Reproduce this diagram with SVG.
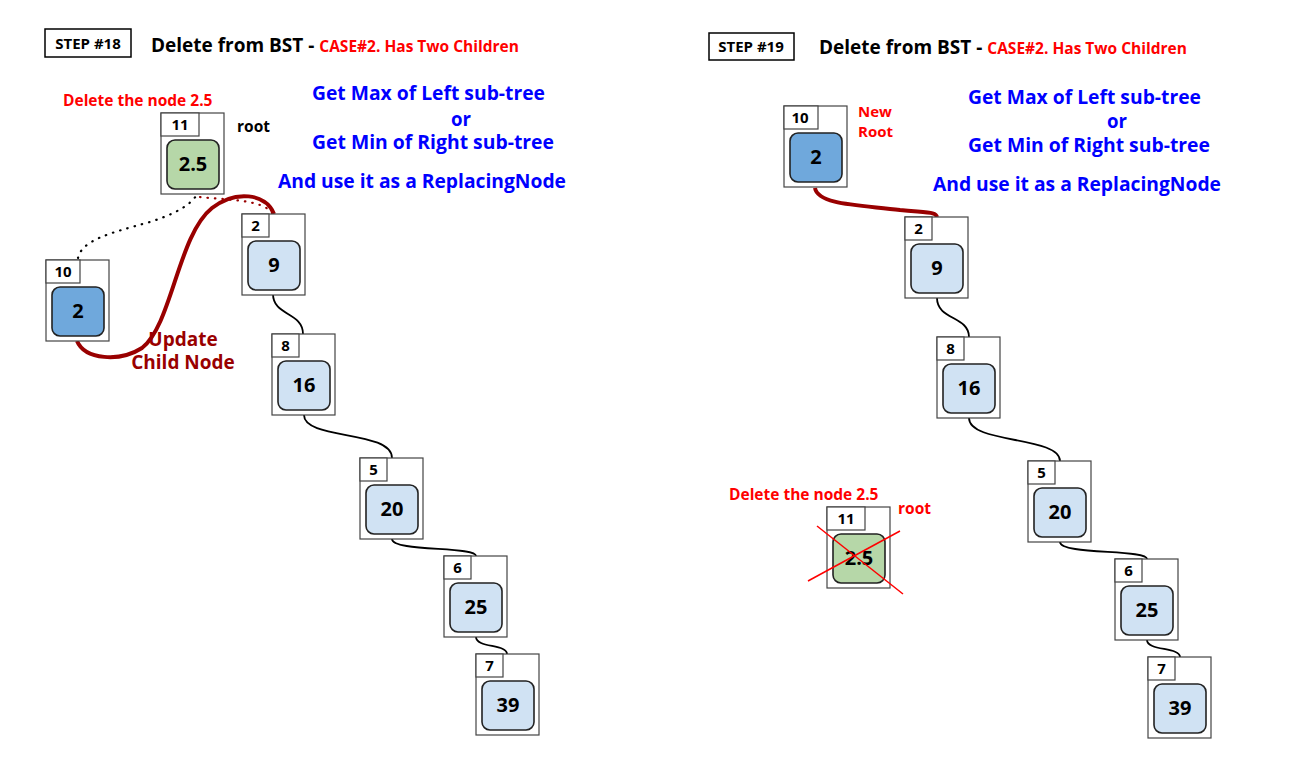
<svg xmlns="http://www.w3.org/2000/svg" width="1291" height="758" viewBox="0 0 1291 758">
<style>
text{font-family:"Open Sans","Noto Sans","DejaVu Sans",sans-serif;font-weight:bold}
.outer{fill:#fff;stroke:#444;stroke-width:1.2}
.lab{fill:#fff;stroke:#444;stroke-width:1.2}
.inner{stroke:#222;stroke-width:1.6}
.lb{fill:#d0e2f3}.db{fill:#6fa8dc}.gr{fill:#b6d7a8}
.lt{font-size:15px;text-anchor:middle;fill:#000}
.vt{font-size:20px;text-anchor:middle;fill:#000}
.conn{fill:none;stroke:#000;stroke-width:1.8}
.thick{fill:none;stroke:#990000;stroke-width:4}
.blue{font-size:20px;fill:#0000ff}
.red{fill:#ff0000}
.step{fill:#fff;stroke:#000;stroke-width:1.5}
</style>
<defs>
<g id="box1">
<rect class="outer" x="0" y="0" width="63" height="81"/>
<rect class="lab" x="0" y="0" width="27" height="23"/>
</g>
<g id="box2">
<rect class="outer" x="0" y="0" width="63" height="81"/>
<rect class="lab" x="0" y="0" width="34" height="23"/>
</g>
<g id="box3">
<rect class="outer" x="0" y="0" width="63" height="81"/>
<rect class="lab" x="0" y="0" width="38" height="23"/>
</g>
</defs>

<g id="connectors">
<path class="conn" d="M273,294 C273,316 303,312 303,334"/>
<path class="conn" d="M304,415 C304,440 392,430 392,458"/>
<path class="conn" d="M392,539 C392,552 476,546 476,556"/>
<path class="conn" d="M476,637 C476,648 507,644 507,654"/>
<path fill="none" stroke="#000" stroke-width="2.2" stroke-dasharray="0.5,7" stroke-linecap="round" d="M78,258 C82,240 110,233 150,222 C175,214 190,205 196,196"/>
<path fill="none" stroke="#990000" stroke-width="2.2" stroke-dasharray="0.5,7" stroke-linecap="round" d="M200,197 C225,200 262,199 272,213"/>
<path class="thick" d="M77,341 C85,360 120,362 142,348 C172,325 178,235 212,208 C235,190 266,193 274,214"/>
<path class="thick" d="M815,188 C818,205 860,205 900,210 C930,213 936,212 937,217"/>
<path class="conn" d="M937,298 C937,320 969,316 969,337"/>
<path class="conn" d="M969,418 C969,444 1060,436 1060,461"/>
<path class="conn" d="M1060,542 C1060,555 1147,549 1147,559"/>
<path class="conn" d="M1147,640 C1147,651 1180,647 1180,657"/>
</g>

<g id="left-header">
<rect class="step" x="45" y="29" width="86" height="28"/>
<text x="88" y="49" font-size="15" text-anchor="middle">STEP #18</text>
<text x="151" y="52" font-size="19">Delete from BST - <tspan class="red" font-size="15.5">CASE#2. Has Two Children</tspan></text>
<text class="red" x="63" y="106" font-size="15.5">Delete the node 2.5</text>
<text x="237" y="132" font-size="15.5">root</text>
<text class="blue" x="312" y="100" textLength="233" lengthAdjust="spacingAndGlyphs">Get Max of Left sub-tree</text>
<text class="blue" x="451" y="126" textLength="20" lengthAdjust="spacingAndGlyphs">or</text>
<text class="blue" x="312" y="149" textLength="242" lengthAdjust="spacingAndGlyphs">Get Min of Right sub-tree</text>
<text class="blue" x="278" y="188" textLength="288" lengthAdjust="spacingAndGlyphs">And use it as a ReplacingNode</text>
<text x="183" y="346" font-size="19" fill="#990000" text-anchor="middle">Update</text>
<text x="183" y="369" font-size="19" fill="#990000" text-anchor="middle">Child Node</text>
</g>

<g id="L11" transform="translate(161,113)"><use href="#box3"/><rect class="inner gr" x="6" y="27" width="52" height="49" rx="8"/><text class="lt" x="19" y="17">11</text><text class="vt" x="32" y="58">2.5</text></g>
<g id="L10" transform="translate(46,260)"><use href="#box2"/><rect class="inner db" x="6" y="27" width="52" height="49" rx="8"/><text class="lt" x="17" y="17">10</text><text class="vt" x="32" y="58">2</text></g>
<g id="L9" transform="translate(242,214)"><use href="#box1"/><rect class="inner lb" x="6" y="27" width="52" height="49" rx="8"/><text class="lt" x="13.5" y="17">2</text><text class="vt" x="32" y="58">9</text></g>
<g id="L16" transform="translate(272,334)"><use href="#box1"/><rect class="inner lb" x="6" y="27" width="52" height="49" rx="8"/><text class="lt" x="13.5" y="17">8</text><text class="vt" x="32" y="58">16</text></g>
<g id="L20" transform="translate(360,458)"><use href="#box1"/><rect class="inner lb" x="6" y="27" width="52" height="49" rx="8"/><text class="lt" x="13.5" y="17">5</text><text class="vt" x="32" y="58">20</text></g>
<g id="L25" transform="translate(444,556)"><use href="#box1"/><rect class="inner lb" x="6" y="27" width="52" height="49" rx="8"/><text class="lt" x="13.5" y="17">6</text><text class="vt" x="32" y="58">25</text></g>
<g id="L39" transform="translate(476,654)"><use href="#box1"/><rect class="inner lb" x="6" y="27" width="52" height="49" rx="8"/><text class="lt" x="13.5" y="17">7</text><text class="vt" x="32" y="58">39</text></g>

<g id="right-header">
<rect class="step" x="709" y="33" width="85" height="27"/>
<text x="751" y="52" font-size="15" text-anchor="middle">STEP #19</text>
<text x="819" y="54" font-size="19">Delete from BST - <tspan class="red" font-size="15.5">CASE#2. Has Two Children</tspan></text>
<text class="red" x="858" y="117" font-size="15">New</text>
<text class="red" x="858" y="137" font-size="15">Root</text>
<text class="blue" x="968" y="104" textLength="233" lengthAdjust="spacingAndGlyphs">Get Max of Left sub-tree</text>
<text class="blue" x="1107" y="128" textLength="20" lengthAdjust="spacingAndGlyphs">or</text>
<text class="blue" x="968" y="152" textLength="242" lengthAdjust="spacingAndGlyphs">Get Min of Right sub-tree</text>
<text class="blue" x="933" y="191" textLength="288" lengthAdjust="spacingAndGlyphs">And use it as a ReplacingNode</text>
<text class="red" x="729" y="500" font-size="15.5">Delete the node 2.5</text>
<text class="red" x="898" y="514" font-size="15.5">root</text>
</g>

<g id="R2" transform="translate(784,106)"><use href="#box2"/><rect class="inner db" x="6" y="27" width="52" height="49" rx="8"/><text class="lt" x="16" y="17">10</text><text class="vt" x="32" y="58">2</text></g>
<g id="R9" transform="translate(905,217)"><use href="#box1"/><rect class="inner lb" x="6" y="27" width="52" height="49" rx="8"/><text class="lt" x="13.5" y="17">2</text><text class="vt" x="32" y="58">9</text></g>
<g id="R16" transform="translate(937,337)"><use href="#box1"/><rect class="inner lb" x="6" y="27" width="52" height="49" rx="8"/><text class="lt" x="13.5" y="17">8</text><text class="vt" x="32" y="58">16</text></g>
<g id="R20" transform="translate(1028,461)"><use href="#box1"/><rect class="inner lb" x="6" y="27" width="52" height="49" rx="8"/><text class="lt" x="13.5" y="17">5</text><text class="vt" x="32" y="58">20</text></g>
<g id="R25" transform="translate(1115,559)"><use href="#box1"/><rect class="inner lb" x="6" y="27" width="52" height="49" rx="8"/><text class="lt" x="13.5" y="17">6</text><text class="vt" x="32" y="58">25</text></g>
<g id="R39" transform="translate(1148,657)"><use href="#box1"/><rect class="inner lb" x="6" y="27" width="52" height="49" rx="8"/><text class="lt" x="13.5" y="17">7</text><text class="vt" x="32" y="58">39</text></g>
<g id="R11" transform="translate(827,507)"><use href="#box3"/><rect class="inner gr" x="6" y="27" width="52" height="49" rx="8"/><text class="lt" x="19" y="17">11</text><text class="vt" x="32" y="58">2.5</text>
<line x1="-10" y1="19" x2="76" y2="87" stroke="#ff0000" stroke-width="1.5"/>
<line x1="-19" y1="74" x2="73" y2="24" stroke="#ff0000" stroke-width="1.5"/>
</g>
</svg>
